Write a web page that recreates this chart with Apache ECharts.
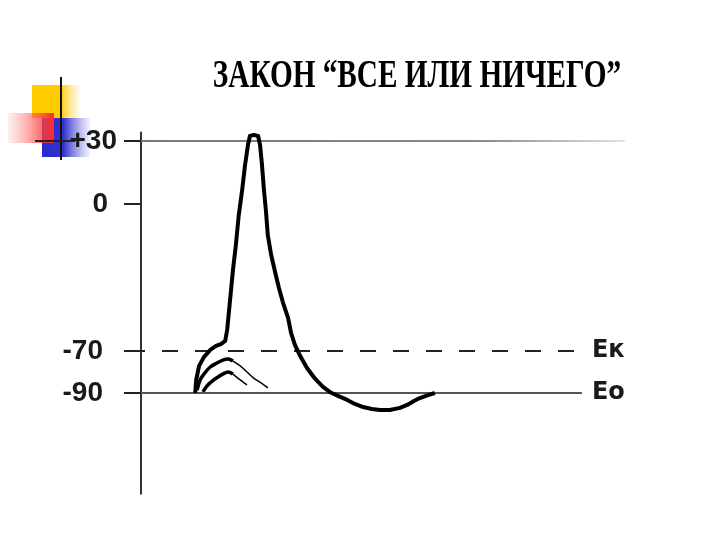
<!DOCTYPE html>
<html>
<head>
<meta charset="utf-8">
<script src="https://cdn.jsdelivr.net/npm/echarts@6/dist/echarts.min.js"></script>
<style>html,body{margin:0;padding:0;background:#fff;}#c{width:720px;height:540px;}</style>
</head>
<body>
<div id="c"></div>
<script>
// ---- data (x: time, arbitrary units 0..100; y: membrane potential, mV) ----
const titleText = 'ЗАКОН “ВСЕ ИЛИ НИЧЕГО”';
const yTicks = [30, 0, -70, -90];
const peakLevel = 30;
const criticalLevel = -70;   // Eк
const restLevel = -90;       // Eo
const criticalLabel = 'Eк';
const restLabel = 'Eo';

// action potential (supra-threshold stimulus)
const apX = [11.2, 11.4, 12.0, 13.0, 14.3, 15.5, 16.5, 17.4, 17.8, 18.2, 18.6, 19.0, 19.6, 20.2, 20.9, 21.5, 22.1, 22.5, 23.3, 24.2, 24.6, 25.0, 25.4, 25.8, 26.2, 26.9, 27.7, 28.5, 29.3, 30.4, 31.0, 31.8, 32.9, 34.3, 36.0, 37.6, 39.0, 40.7, 42.6, 44.2, 45.9, 47.7, 49.4, 51.4, 53.5, 55.0, 56.4, 57.6, 59.3, 60.7];
const apY = [-90, -83.8, -77.1, -72.9, -69.5, -67.6, -66.7, -65.2, -60, -50.5, -41, -31.4, -19.5, -5.2, 6.7, 18.6, 28.1, 32.4, 32.9, 32.4, 28.1, 18.6, 6.7, -2.9, -14.8, -24.3, -32.4, -40, -46.7, -54.3, -61.4, -67.1, -72.4, -78.1, -83.3, -87.1, -89.5, -91.4, -93.3, -95.2, -96.7, -97.6, -98.1, -98.1, -97.1, -95.7, -93.8, -92.4, -91, -90];

// sub-threshold local responses
const subAX = [11.6, 12.2, 13.0, 14.3, 15.7, 16.9, 18.0, 19.0, 20.5, 21.9, 23.3, 24.8, 26.2];
const subAY = [-88.6, -83.8, -81, -77.6, -75.7, -74.3, -73.8, -74.8, -77.1, -80, -82.9, -85.2, -87.6];
const subBX = [12.8, 13.6, 14.7, 15.9, 16.9, 18.0, 19.0, 20.0, 21.1, 21.9];
const subBY = [-89.5, -86.7, -84.3, -82.4, -81, -80, -81, -82.9, -84.8, -86.2];

// ---- chart ----
const zip = (xs, ys) => xs.map((x, i) => [x, ys[i]]);
const ap = zip(apX, apY);
const subA = zip(subAX, subAY);
const subB = zip(subBX, subBY);

const chart = echarts.init(document.getElementById('c'), null, {renderer: 'canvas'});
const tickFont = 'Liberation Sans';

chart.setOption({
  animation: false,
  backgroundColor: '#ffffff',
  grid: {left: 141, right: 95, top: 132.6, bottom: 46.2, containLabel: false},
  xAxis: {type: 'value', min: 0, max: 100, show: false},
  yAxis: {
    type: 'value', min: -138, max: 34,
    splitLine: {show: false},
    axisLine: {show: true, lineStyle: {color: '#333', width: 2}},
    axisTick: {show: true, customValues: yTicks, length: 17, lineStyle: {color: '#222', width: 2}},
    axisLabel: {
      show: true, customValues: yTicks, margin: 24,
      formatter: v => v === 30 ? '{a|+30}' : (v === 0 ? '{b|0}' : '{c|' + v + '}'),
      rich: {
        a: {fontFamily: tickFont, fontWeight: 'bold', fontSize: 28, color: '#1a1a1a'},
        b: {fontFamily: tickFont, fontWeight: 'bold', fontSize: 28, color: '#1a1a1a', padding: [0, 9, 0, 0]},
        c: {fontFamily: tickFont, fontWeight: 'bold', fontSize: 28, color: '#1a1a1a', padding: [0, 14, 0, 0]}
      }
    }
  },
  graphic: [
    // decorative bullet block (slide ornament)
    {type: 'rect', shape: {x: 32, y: 85, width: 48, height: 33}, silent: true,
     style: {fill: {type: 'linear', x: 0, y: 0, x2: 1, y2: 0, colorStops: [
       {offset: 0, color: '#ffcc00'}, {offset: 0.6, color: '#ffcc00'}, {offset: 1, color: 'rgba(255,220,120,0.1)'}]}}},
    {type: 'rect', shape: {x: 42, y: 118, width: 48, height: 39}, silent: true,
     style: {fill: {type: 'linear', x: 0, y: 0, x2: 1, y2: 0, colorStops: [
       {offset: 0, color: '#2a2ad0'}, {offset: 0.45, color: '#3333cc'}, {offset: 1, color: 'rgba(120,120,230,0.1)'}]}}},
    {type: 'rect', shape: {x: 8, y: 113, width: 46, height: 30}, silent: true,
     style: {fill: {type: 'linear', x: 0, y: 0, x2: 1, y2: 0, colorStops: [
       {offset: 0, color: 'rgba(255,120,120,0.1)'}, {offset: 1, color: '#ff2a2a'}]}}},
    {type: 'line', shape: {x1: 61, y1: 77, x2: 61, y2: 160}, silent: true, style: {stroke: '#111', lineWidth: 2}},
    {type: 'line', shape: {x1: 35, y1: 141, x2: 75, y2: 141}, silent: true, style: {stroke: '#222', lineWidth: 2}},
    // slide title
    {type: 'text', x: 417, y: 77, scaleX: 0.75, silent: true,
     style: {text: titleText, x: 0, y: 0, align: 'center', verticalAlign: 'middle',
             font: 'bold 39px "Liberation Serif"', fill: '#000'}}
  ],
  series: [
    {
      type: 'line', data: ap, showSymbol: false, smooth: false,
      lineStyle: {color: '#000', width: 4, join: 'round'}, z: 5,
      markLine: {
        silent: true, symbol: 'none', animation: false,
        data: [
          [{coord: [0, peakLevel], lineStyle: {type: 'solid', width: 2, color: {type: 'linear', x: 0, y: 0, x2: 1, y2: 0, colorStops: [
              {offset: 0, color: '#777'}, {offset: 0.7, color: '#8a8a8a'}, {offset: 1, color: '#e4e4e4'}]}}, label: {show: false}},
           {coord: [100, peakLevel]}],
          [{coord: [0, criticalLevel], lineStyle: {type: [16, 17], dashOffset: 12, width: 2, color: '#222'},
            label: {show: true, position: 'end', distance: 10, formatter: criticalLabel, fontFamily: 'DejaVu Sans', fontWeight: 'bold', fontSize: 24, color: '#1a1a1a', padding: [0, 0, 12, 0]}},
           {coord: [91.1, criticalLevel]}],
          [{coord: [0, restLevel], lineStyle: {type: 'solid', width: 2, color: '#555'},
            label: {show: true, position: 'end', distance: 10, formatter: restLabel, fontFamily: 'DejaVu Sans', fontWeight: 'bold', fontSize: 24, color: '#1a1a1a', padding: [0, 0, 10, 0]}},
           {coord: [91.1, restLevel]}]
        ]
      }
    },
    {type: 'line', data: subA.slice(0, 8), showSymbol: false, smooth: 0.3, lineStyle: {color: '#000', width: 3.5}, z: 4},
    {type: 'line', data: subA.slice(7), showSymbol: false, smooth: 0.3, lineStyle: {color: '#000', width: 1.5}, z: 4},
    {type: 'line', data: subB.slice(0, 7), showSymbol: false, smooth: 0.3, lineStyle: {color: '#000', width: 3.5}, z: 4},
    {type: 'line', data: subB.slice(6), showSymbol: false, smooth: 0.3, lineStyle: {color: '#000', width: 1.5}, z: 4}
  ]
});
</script>
</body>
</html>
